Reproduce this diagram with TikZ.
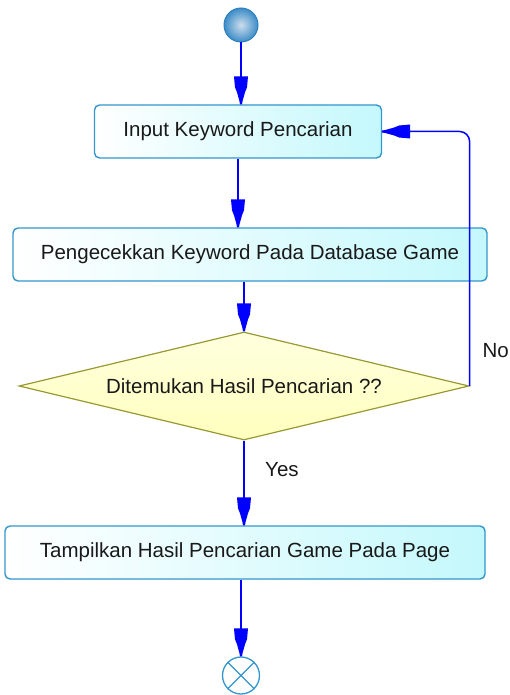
\documentclass[tikz,border=0pt]{standalone}
\usepackage{fontspec}
\setmainfont{Liberation Sans}
\usetikzlibrary{arrows.meta,shapes.geometric}

\definecolor{flowblue}{RGB}{0,0,255}
\definecolor{boxedge}{RGB}{51,150,204}
\definecolor{boxcyan}{RGB}{196,248,252}
\definecolor{decedge}{RGB}{153,153,51}
\definecolor{decfill}{RGB}{255,255,190}
\definecolor{balledge}{RGB}{45,128,190}
\definecolor{ballin}{RGB}{205,222,236}
\definecolor{ballout}{RGB}{60,140,200}
\definecolor{txt}{RGB}{25,25,25}

% tapered, filled arrow head used on every transition
\pgfdeclarearrow{
  name = Pencil,
  setup code = {
    \pgfarrowssettipend{0pt}
    \pgfarrowssetlineend{-26pt}
    \pgfarrowssetbackend{-28pt}
    \pgfarrowsupperhullpoint{0pt}{1pt}
    \pgfarrowsupperhullpoint{-28pt}{7pt}
  },
  drawing code = {
    \pgfpathmoveto{\pgfqpoint{0pt}{1pt}}
    \pgfpathlineto{\pgfqpoint{-3pt}{1.5pt}}
    \pgfpathlineto{\pgfqpoint{-12pt}{4pt}}
    \pgfpathlineto{\pgfqpoint{-17pt}{6pt}}
    \pgfpathlineto{\pgfqpoint{-28pt}{7pt}}
    \pgfpathlineto{\pgfqpoint{-28pt}{-7pt}}
    \pgfpathlineto{\pgfqpoint{-17pt}{-6pt}}
    \pgfpathlineto{\pgfqpoint{-12pt}{-4pt}}
    \pgfpathlineto{\pgfqpoint{-3pt}{-1.5pt}}
    \pgfpathlineto{\pgfqpoint{0pt}{-1pt}}
    \pgfpathclose
    \pgfusepathqfill
  }
}

\tikzset{
  x=1pt, y=-1pt,
  every node/.style={font=\fontsize{20.5}{24}\selectfont, text=txt},
  activity/.style={draw=boxedge, line width=1.4pt, rounded corners=5pt,
    left color=white, right color=boxcyan, minimum height=53pt, inner sep=0pt},
  decision/.style={diamond, draw=decedge, line width=1.2pt,
    top color=white!50!decfill, bottom color=decfill,
    minimum width=450pt, minimum height=108pt, aspect=4.17, inner sep=0pt},
  flow/.style={draw=flowblue, line width=1.5pt, -Pencil},
  lbl/.style={inner sep=0pt}
}

\begin{document}
\begin{tikzpicture}
  \useasboundingbox (0,0) rectangle (510,695);

  % start and end markers
  \node[circle, draw=balledge, line width=1pt, inner color=ballin, outer color=ballout,
        minimum size=34pt, inner sep=0pt] (start) at (241,25) {};
  \node[circle, draw=boxedge, line width=1.3pt, fill=white,
        minimum size=37pt, inner sep=0pt] (finish) at (241,675.5) {};
  \draw[boxedge, line width=1.3pt] (finish.north west) -- (finish.south east)
        (finish.north east) -- (finish.south west);

  % activities
  \node[activity, minimum width=287pt] (input) at (238,131.5) {Input Keyword Pencarian};
  \node[activity, minimum width=474pt] (check) at (250,254.5) {Pengecekkan Keyword Pada Database Game};
  \node[decision] (found) at (244,386) {Ditemukan Hasil Pencarian ??};
  \node[activity, minimum width=480pt] (show) at (245,552.5) {Tampilkan Hasil Pencarian Game Pada Page};

  % guard labels
  \node[lbl, anchor=east] (nolbl) at (509,351) {No};
  \node[lbl, anchor=west] (yeslbl) at (265,470) {Yes};

  % transitions
  \draw[flow] (start.south) -- (start.south |- input.north);
  \draw[flow] (input.south) -- (input.south |- check.north);
  \draw[flow] (found.north |- check.south) -- (found.north);
  \draw[flow] (found.south) -- (found.south |- show.north);
  \draw[flow] (finish.north |- show.south) -- (finish.north);
  \draw[flow, rounded corners=10pt] (found.east) -- (found.east |- input.east) -- (input.east);
\end{tikzpicture}
\end{document}
